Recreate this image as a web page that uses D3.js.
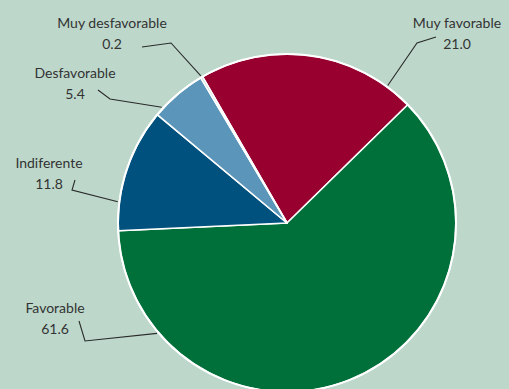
<!DOCTYPE html>
<html>
<head>
<meta charset="utf-8">
<script src="https://cdn.jsdelivr.net/npm/d3@7"></script>
<style>
  html, body { margin: 0; padding: 0; background: #bdd8cb; }
  svg { display: block; }
</style>
</head>
<body>
<div id="chart"></div>
<script>
// data
const categories = ["Muy favorable", "Favorable", "Indiferente", "Desfavorable", "Muy desfavorable"];
const values = [21.0, 61.6, 11.8, 5.4, 0.2];
const valueLabels = ["21.0", "61.6", "11.8", "5.4", "0.2"];
const colors = ["#980030", "#00703a", "#00517e", "#5b95b9", "#a3ccb9"];

// label layout: where the two text lines sit and the leader elbow
const labelLayout = [
  {x: 457, y: 28, lx: 436, ly: 37, ex: 417, ey: 43, t: 0.876},
  {x: 55,  y: 313, lx: 79, ly: 321, ex: 85, ey: 341, t: 0.83},
  {x: 49,  y: 168, lx: 75, ly: 180, ex: 72, ey: 190, t: 0.23},
  {x: 75,  y: 78, lx: 98, ly: 90, ex: 110, ey: 99, t: 0.15},
  {x: 112, y: 28, lx: 142, ly: 47, ex: 171, ey: 43, t: 0.5}
];

const W = 509, H = 389;
const cx = 287, cy = 223, R = 169;

const svg = d3.select("#chart").append("svg")
  .attr("width", W)
  .attr("height", H);

svg.append("rect")
  .attr("width", W)
  .attr("height", H)
  .attr("fill", "#bdd8cb");

const color = d3.scaleOrdinal().domain(categories).range(colors);

const data = categories.map((c, i) => ({name: c, value: values[i], label: valueLabels[i], pos: labelLayout[i]}));

const startA = -30 * Math.PI / 180;
const pie = d3.pie()
  .value(d => d.value)
  .sort(null)
  .startAngle(startA)
  .endAngle(startA + 2 * Math.PI);

const arc = d3.arc().innerRadius(0).outerRadius(R);

const g = svg.append("g").attr("transform", `translate(${cx},${cy})`);

const arcs = pie(data);

g.selectAll("path.slice")
  .data(arcs)
  .enter()
  .append("path")
  .attr("class", "slice")
  .attr("d", arc)
  .attr("fill", d => color(d.data.name))
  .attr("stroke", "#ffffff")
  .attr("stroke-width", 1.6)
  .attr("stroke-linejoin", "round");

// outline
g.append("circle")
  .attr("r", R)
  .attr("fill", "none")
  .attr("stroke", "#ffffff")
  .attr("stroke-width", 2);

// leaders
const edgePoint = d => {
  const a = d.startAngle + (d.endAngle - d.startAngle) * d.data.pos.t;
  return [cx + (R + 1.5) * Math.sin(a), cy - (R + 1.5) * Math.cos(a)];
};

const line = d3.line();
svg.selectAll("path.leader")
  .data(arcs)
  .enter()
  .append("path")
  .attr("class", "leader")
  .attr("d", d => line([[d.data.pos.lx, d.data.pos.ly], [d.data.pos.ex, d.data.pos.ey], edgePoint(d)]))
  .attr("fill", "none")
  .attr("stroke", "#2a2a2a")
  .attr("stroke-width", 1.1);

const labels = svg.selectAll("g.lab")
  .data(arcs)
  .enter()
  .append("g")
  .attr("class", "lab");

labels.append("text")
  .attr("x", d => d.data.pos.x)
  .attr("y", d => d.data.pos.y)
  .attr("text-anchor", "middle")
  .style("font-family", "Lato, 'Open Sans', sans-serif")
  .style("font-size", "14px")
  .style("fill", "#333333")
  .text(d => d.data.name);

labels.append("text")
  .attr("x", d => d.data.pos.x)
  .attr("y", d => d.data.pos.y + 20.5)
  .attr("text-anchor", "middle")
  .style("font-family", "Lato, 'Open Sans', sans-serif")
  .style("font-size", "14px")
  .style("fill", "#333333")
  .text(d => d.data.label);
</script>
</body>
</html>
